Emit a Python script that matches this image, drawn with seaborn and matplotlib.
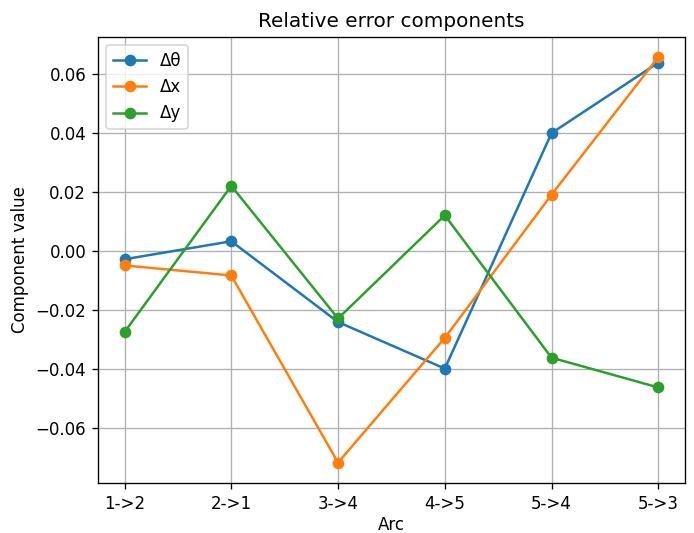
import matplotlib
matplotlib.use("Agg")
import matplotlib.pyplot as plt
import seaborn as sns
import pandas as pd

# =============================

arcs = ["1->2", "2->1", "3->4", "4->5", "5->4", "5->3"]
d_theta = [-0.0029, 0.0032, -0.0242, -0.0400, 0.0399, 0.0638]
d_x = [-0.0050, -0.0084, -0.0719, -0.0296, 0.0190, 0.0657]
d_y = [-0.0276, 0.0220, -0.0230, 0.0120, -0.0363, -0.0464]

series = {"Δθ": d_theta, "Δx": d_x, "Δy": d_y}
colors = ["#1f77b4", "#ff7f0e", "#2ca02c"]

# =============================

# plain matplotlib look, no seaborn theme
plt.rcParams['font.family'] = ['DejaVu Sans']

DPI = 120
fig = plt.figure(figsize=(694 / DPI, 533 / DPI), dpi=DPI)
ax = fig.add_axes([0.141, 0.094, 0.846, 0.837])

for (name, vals), c in zip(series.items(), colors):
    df = pd.DataFrame({"Arc": arcs, "Value": vals})
    sns.lineplot(data=df, x="Arc", y="Value", ax=ax, color=c, marker="o",
                 markersize=6, markeredgecolor=c, markeredgewidth=1,
                 linewidth=1.5, label=name, sort=False)

ax.grid(True, color="#b0b0b0", linewidth=0.8)
ax.set_title("Relative error components")
ax.set_xlabel("Arc", labelpad=2)
ax.set_ylabel("Component value")
ax.legend(loc="upper left")

plt.savefig("out.png", dpi=DPI)
plt.close()
